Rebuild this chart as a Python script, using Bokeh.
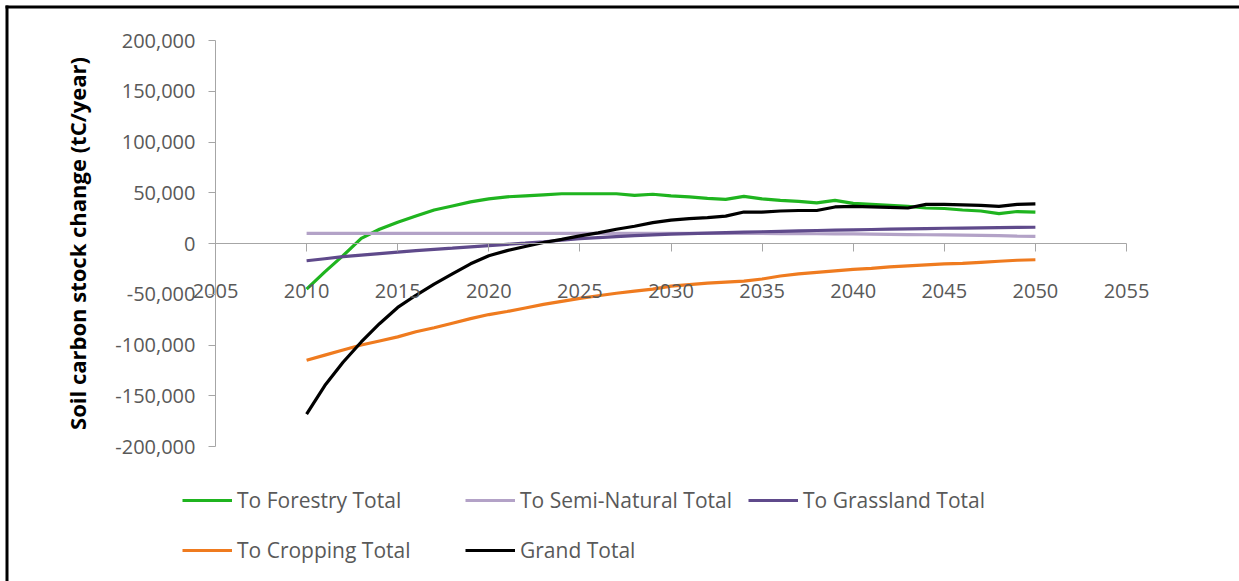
from bokeh.plotting import figure
from bokeh.models import (Legend, LegendItem, FixedTicker, NumeralTickFormatter, Range1d, BoxAnnotation)
from bokeh.embed import file_html
from bokeh.resources import INLINE

years = list(range(2010, 2051))

forestry = [-45000, -28000, -12000, 5000, 14000, 21000, 27000, 33000, 37000, 41000,
            44000, 46000, 47000, 48000, 49000, 49000, 49000, 49000, 47500, 48500,
            47000, 46000, 44500, 43500, 46500, 44000, 42500, 41500, 40000, 42500,
            39500, 38500, 37500, 36500, 35000, 34500, 33000, 32000, 29500, 31500, 31000]

semi_natural = [10000, 10000, 10000, 10000, 10000, 10000, 10000, 10000, 10000, 10000,
                10000, 10000, 10000, 10000, 10000, 10000, 10000, 10000, 10000, 10000,
                10000, 10000, 10000, 10000, 10000, 10000, 9800, 9700, 9600, 9500,
                9400, 9200, 9000, 8800, 8600, 8400, 8200, 8000, 7700, 7300, 7000]

grassland = [-17000, -15000, -13000, -11500, -10000, -8500, -7000, -5800, -4600, -3300,
             -2000, -800, 400, 1700, 3200, 4800, 5800, 6800, 7800, 8500,
             9200, 9700, 10200, 10700, 11200, 11600, 12000, 12400, 12800, 13200,
             13500, 13800, 14100, 14400, 14700, 15000, 15200, 15400, 15600, 15800, 16000]

cropping = [-115000, -110000, -105000, -100000, -96000, -92000, -87000, -83000, -78500, -74000,
            -70000, -67000, -63500, -60000, -57000, -54000, -51500, -49000, -47000, -45000,
            -42000, -40500, -39000, -38000, -37000, -35000, -32000, -30000, -28500, -27000,
            -25500, -24500, -23000, -22000, -21000, -20000, -19500, -18500, -17500, -16500, -16000]

grand_total = [-168000, -140000, -117000, -97000, -79000, -63000, -51000, -40000, -30000, -20000,
               -12000, -7000, -3000, 1000, 4000, 7500, 10500, 14000, 17000, 20500,
               23000, 24500, 25500, 27000, 31000, 31000, 32000, 32500, 32500, 36000,
               36500, 36000, 35500, 35000, 38500, 38500, 38000, 37500, 36500, 38500, 39000]

series_names = ["To Forestry Total", "To Semi-Natural Total", "To Grassland Total",
                "To Cropping Total", "Grand Total"]
series_colors = ["#1fb41f", "#b3a2c7", "#5f4a8b", "#ef7b1f", "#000000"]

x_ticks = list(range(2005, 2056, 5))
y_ticks = list(range(-200000, 200001, 50000))

# layout (pixels inside the canvas)
W, H = 1239, 581
AX_LEFT, AX_RIGHT = 215, 1126     # canvas x of first / last x tick
AX_TOP, AX_BOTTOM = 40, 446       # canvas y of last / first y tick
EDGE0, EDGE1 = 5, 8               # canvas span of the page frame lines

sx = (x_ticks[-1] - x_ticks[0]) / (AX_RIGHT - AX_LEFT)
sy = (y_ticks[-1] - y_ticks[0]) / (AX_BOTTOM - AX_TOP)
x_range = Range1d(x_ticks[0] - AX_LEFT * sx, x_ticks[-1] + (W - AX_RIGHT) * sx)
y_range = Range1d(y_ticks[0] - (H - AX_BOTTOM) * sy, y_ticks[-1] + AX_TOP * sy)

p = figure(width=W, height=H, output_backend="svg", toolbar_location=None,
           x_range=x_range, y_range=y_range,
           min_border_left=0, min_border_right=0, min_border_top=0, min_border_bottom=0)
p.outline_line_color = None
p.xgrid.grid_line_color = None
p.ygrid.grid_line_color = None

# page frame lines (top and left)
p.add_layout(BoxAnnotation(left=x_range.start + EDGE0 * sx, right=x_range.end,
                           top=y_range.end - EDGE0 * sy, bottom=y_range.end - EDGE1 * sy,
                           fill_color="black", fill_alpha=1, line_color=None))
p.quad(left=[x_range.start + EDGE0 * sx], right=[x_range.start + EDGE1 * sx],
       top=[y_range.end - EDGE0 * sy], bottom=[y_range.start],
       fill_color="black", line_color=None)

renderers = []
for data, color in zip([forestry, semi_natural, grassland, cropping, grand_total], series_colors):
    r = p.line(years, data, line_color=color, line_width=3.2)
    renderers.append(r)

font = "Open Sans"
axis_grey = "#a6a6a6"

p.xaxis.ticker = FixedTicker(ticks=x_ticks)
p.xaxis.fixed_location = 0
p.xaxis.bounds = (x_ticks[0], x_ticks[-1])
p.xaxis.axis_line_color = axis_grey
p.xaxis.major_tick_line_color = axis_grey
p.xaxis.major_tick_out = 8
p.xaxis.major_tick_in = 0
p.xaxis.minor_tick_line_color = None
p.xaxis.major_label_text_font = font
p.xaxis.major_label_text_font_size = "20px"
p.xaxis.major_label_text_color = "#595959"
p.xaxis.major_label_standoff = 32

p.yaxis.ticker = FixedTicker(ticks=y_ticks)
p.yaxis.fixed_location = x_ticks[0]
p.yaxis.bounds = (y_ticks[0], y_ticks[-1])
p.yaxis.formatter = NumeralTickFormatter(format="0,0")
p.yaxis.axis_line_color = axis_grey
p.yaxis.major_tick_line_color = axis_grey
p.yaxis.major_tick_out = 7
p.yaxis.major_tick_in = 0
p.yaxis.minor_tick_line_color = None
p.yaxis.major_label_text_font = font
p.yaxis.major_label_text_font_size = "20px"
p.yaxis.major_label_text_color = "#595959"
p.yaxis.major_label_standoff = 13
p.yaxis.axis_label = "Soil carbon stock change (tC/year)"
p.yaxis.axis_label_text_font = font
p.yaxis.axis_label_text_font_style = "bold"
p.yaxis.axis_label_text_font_size = "22px"
p.yaxis.axis_label_text_color = "#000000"
p.yaxis.axis_label_standoff = 20

legend_pos = [(182, 67), (465, 67), (748, 67), (182, 17), (465, 17)]
for name, r, loc in zip(series_names, renderers, legend_pos):
    lg = Legend(items=[LegendItem(label=name, renderers=[r])], location=loc,
                glyph_width=50, glyph_height=20, label_standoff=5,
                padding=0, margin=0, spacing=0,
                border_line_alpha=0, background_fill_alpha=0,
                label_text_font=font, label_text_font_size="21px",
                label_text_color="#595959")
    p.add_layout(lg, "center")

open("out.html", "w").write(file_html(p, INLINE))
